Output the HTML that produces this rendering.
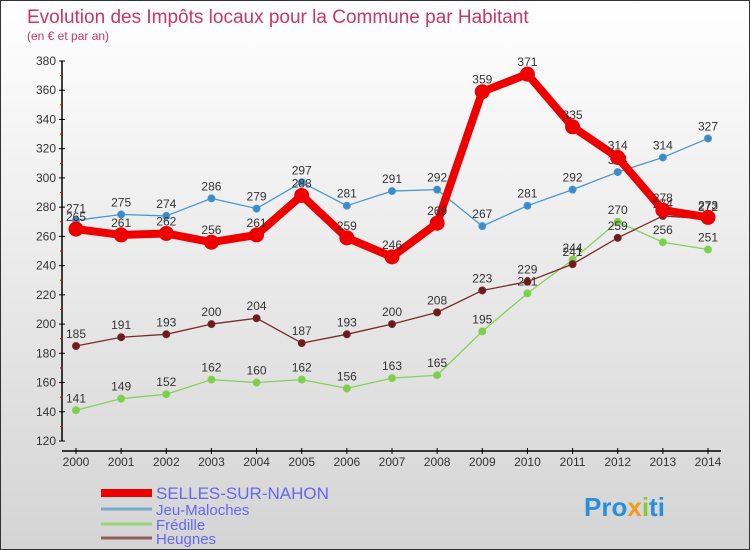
<!DOCTYPE html>
<html><head><meta charset="utf-8"><style>
body{margin:0}
#c{position:relative;width:748px;height:548px;border:1px solid #333;background:linear-gradient(#fff,#d4d4d4);overflow:hidden;font-family:"Liberation Sans",sans-serif}
</style></head><body>
<div id="c">
<svg id="s" width="748" height="548" xmlns="http://www.w3.org/2000/svg">
<text x="26" y="22" font-size="19" fill="#c8366a">Evolution des Impôts locaux pour la Commune par Habitant</text>
<text x="26" y="39" font-size="12" fill="#c8366a">(en € et par an)</text>
<g id="axes"></g><g id="series"></g><g id="legend"></g>
<text x="583" y="515" font-size="26" font-weight="bold" fill="#2a8fd8">Pro<tspan fill="#f39a1c">x</tspan><tspan fill="#8cc63f">i</tspan>ti</text>
</svg>
</div>
<script>
const years=[2000,2001,2002,2003,2004,2005,2006,2007,2008,2009,2010,2011,2012,2013,2014];
const yTicks=[120,140,160,180,200,220,240,260,280,300,320,340,360,380];
const selles=[265,261,262,256,261,288,259,246,269,359,371,335,314,278,273];
const jeu=[271,275,274,286,279,297,281,291,292,267,281,292,304,314,327];
const fredille=[141,149,152,162,160,162,156,163,165,195,221,244,270,256,251];
const heugnes=[185,191,193,200,204,187,193,200,208,223,229,241,259,274,272];
const NS="http://www.w3.org/2000/svg";
const xS=i=>75+i*(632/14);
const yS=v=>440-(v-120)*(380/260);
function mk(tag,attrs,parent,txt){const e=document.createElementNS(NS,tag);for(const k in attrs)e.setAttribute(k,attrs[k]);if(txt!==undefined)e.textContent=txt;parent.appendChild(e);return e;}
const ax=document.getElementById('axes');
let l=mk('line',{x1:61,y1:60,x2:61,y2:440,stroke:'#000','stroke-width':1.5},ax);


l=mk('line',{x1:61,y1:450,x2:720,y2:450,stroke:'#000','stroke-width':1.5},ax);


yTicks.forEach((v,i)=>{const y=yS(v);
mk('line',{x1:58,y1:y,x2:64,y2:y,stroke:'#000'},ax);
if(i<yTicks.length-1)mk('line',{x1:59,y1:y-14.6,x2:62,y2:y-14.6,stroke:'#e00'},ax);
const t=mk('text',{x:55,y:y+4,'font-size':12,'text-anchor':'end',fill:'#333'},ax,v);

});
years.forEach((yr,i)=>{const x=xS(i);
mk('line',{x1:x,y1:447,x2:x,y2:453,stroke:'#000'},ax);
const t=mk('text',{x:x,y:465,'font-size':12,'text-anchor':'middle',fill:'#333'},ax,yr);

});
const sg=document.getElementById('series');
function draw(data,color,w,r,fill,name){
const g=mk('g',{},sg);


const p=mk('polyline',{points:data.map((v,i)=>xS(i)+','+yS(v)).join(' '),fill:'none',stroke:color,'stroke-width':w,'stroke-linejoin':'round'},g);


data.forEach((v,i)=>{const c=mk('circle',{cx:xS(i),cy:yS(v),r:r,fill:fill,stroke:color,'stroke-width':1},g);


const t=mk('text',{x:xS(i),y:yS(v)-8,'font-size':12,'text-anchor':'middle',fill:'#333'},g,v);

});}
draw(fredille,'#86d15a',1.3,3.5,'#7ccf48','fredille');
draw(heugnes,'#7a2a2a',1.3,3.5,'#6b1b1b','heugnes');
draw(jeu,'#4a97cf',1.3,3.5,'#3d8ac8','jeu-maloches');
draw(selles,'#ee0000',8,7,'#ee0000','selles-sur-nahon');
const lg=document.getElementById('legend');
[['SELLES-SUR-NAHON','#ee0000',8,492,17],['Jeu-Maloches','#7aa9cf',3,508,15],['Frédille','#98d47a',3,523,15],['Heugnes','#8d5e5e',3,537,15]].forEach(([n,c,w,y,fs])=>{
const g=mk('g',{},lg);


mk('line',{x1:100,y1:y,x2:151,y2:y,stroke:c,'stroke-width':w},g);
mk('text',{x:155,y:y+6,'font-size':fs,fill:'#6666ee'},g,n);});
</script>
</body></html>
